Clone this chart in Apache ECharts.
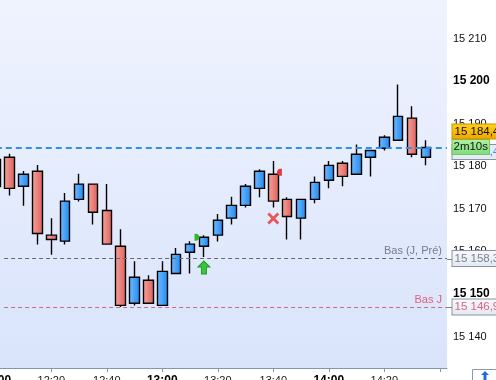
<!DOCTYPE html>
<html><head><meta charset="utf-8">
<script src="https://cdn.jsdelivr.net/npm/echarts@6/dist/echarts.min.js"></script>
<style>html,body{margin:0;padding:0;background:#fff;overflow:hidden}#c{width:496px;height:380px}</style>
</head><body><div id="c"></div>
<script>
// ---- data ----
const times  = ['12:00','12:05','12:10','12:15','12:20','12:25','12:30','12:35','12:40','12:45','12:50','12:55',
                '13:00','13:05','13:10','13:15','13:20','13:25','13:30','13:35','13:40','13:45','13:50','13:55',
                '14:00','14:05','14:10','14:15','14:20','14:25','14:30','14:35'];
const opens  = [15175.2,15182.1,15175.3,15178.8,15163.8,15162.4,15172.2,15175.8,15169.6,15161.2,15147.8,15153.2,
                15147.3,15154.8,15159.8,15161.2,15163.8,15167.8,15170.8,15174.8,15178.1,15172.2,15167.8,15172.2,
                15176.7,15180.7,15178.1,15182.1,15184.2,15186.1,15191.3,15182.1];
const closes = [15181.6,15174.8,15178.1,15164.2,15162.8,15171.8,15175.8,15169.2,15161.7,15147.3,15153.9,15147.8,
                15155.3,15159.3,15161.7,15163.3,15167.3,15170.8,15175.3,15178.8,15171.8,15168.2,15172.2,15176.2,
                15180.2,15177.6,15182.8,15183.7,15186.8,15191.7,15182.8,15184.4];
const lows   = [15174.0,15173.1,15170.7,15161.6,15159.2,15161.6,15171.7,15166.3,15161.7,15146.9,15147.3,15147.8,
                15147.3,15154.8,15154.8,15158.7,15162.3,15166.3,15170.3,15172.7,15170.3,15162.8,15162.8,15171.3,
                15174.8,15175.3,15178.1,15177.6,15183.7,15186.1,15182.1,15180.2];
const highs  = [15182.6,15182.9,15178.9,15180.3,15167.8,15173.7,15178.2,15175.8,15175.8,15165.2,15157.7,15154.4,
                15157.7,15160.8,15162.4,15163.8,15168.8,15172.8,15175.8,15179.3,15181.2,15172.7,15172.2,15177.6,
                15181.2,15181.2,15185.1,15183.7,15187.3,15199.2,15194.1,15186.1];
const yTicks = [15140,15150,15160,15170,15180,15190,15200,15210];
const xTickTimes = ['12:00','12:20','12:40','13:00','13:20','13:40','14:00','14:20','14:40'];
const lastPrice = 15184.4;
const countdown = '2m10s';
const prevDayLow = 15158.3, prevDayLowLabel = 'Bas (J, Pré)';
const dayLow = 15146.9, dayLowLabel = 'Bas J';
const upArrows   = [['13:15', 15156.2]];
const greenFlags = [['13:12.5', 15163.3]];
const redFlags   = [['13:42.2', 15178.6]];
const crosses    = [['13:40', 15167.7]];

// ---- helpers ----
function toMin(t){ const p=t.split(':'); return (parseInt(p[0])-12)*60+parseFloat(p[1]); }
function fmtNum(v, dec){ const s=v.toFixed(dec).replace('.',','); const i=s.indexOf(',')<0?s.length:s.indexOf(',');
  return s.slice(0,i-3)+' '+s.slice(i-3); }
const candleData = times.map((t,i)=>[toMin(t), opens[i], closes[i], lows[i], highs[i]]);
const xMin = 0, xMax = 162.6, yMin = 15132.6, yMax = 15219.04;
const FONT = '"Liberation Sans", Arial, sans-serif';
const blueGrad = {type:'linear',x:0,y:0,x2:1,y2:0,colorStops:[{offset:0,color:'#74bcff'},{offset:1,color:'#1f87ee'}]};
const redGrad  = {type:'linear',x:0,y:0,x2:1,y2:0,colorStops:[{offset:0,color:'#f7a49d'},{offset:1,color:'#dd5f5b'}]};
const AX = '#8797aa';

const chart = echarts.init(document.getElementById('c'), null, {renderer:'canvas'});
function markerSeries(data,symbol,size,color,border){
  return {type:'scatter',data:data.map(d=>[toMin(d[0]),d[1]]),symbol:symbol,symbolSize:size,silent:true,z:5,
    itemStyle:{color:color,borderColor:border,borderWidth:border?1:0,opacity:1}};
}
chart.setOption({
  animation:false,
  grid:{left:-4.2,right:49,top:0,bottom:12,show:true,borderWidth:0,outerBoundsMode:'none',containLabel:false,
    backgroundColor:{type:'linear',x:0,y:0,x2:0,y2:1,colorStops:[{offset:0,color:'#eff3fe'},{offset:1,color:'#d9e4fb'}]}},
  xAxis:{type:'value',min:xMin,max:xMax,splitLine:{show:false},
    axisLine:{show:true,lineStyle:{color:AX,width:1}},
    axisTick:{show:true,length:4,lineStyle:{color:AX},customValues:xTickTimes.map(toMin)},
    axisLabel:{margin:7,fontFamily:FONT,fontSize:11,color:'#1a1a1a',customValues:xTickTimes.map(toMin),
      formatter:v=>{ if(v>=160) return ''; const h=12+Math.floor(v/60), m=Math.round(v%60);
        const s=h+':'+(m<10?'0':'')+m; return m===0?'{b|'+s+'}':s; },
      rich:{b:{fontWeight:'bold',fontSize:12,fontFamily:FONT,color:'#000'}}}},
  yAxis:{type:'value',position:'right',min:yMin,max:yMax,scale:true,splitLine:{show:false},
    axisLine:{show:true,lineStyle:{color:AX,width:1}},
    axisTick:{show:true,length:4,lineStyle:{color:AX},customValues:yTicks},
    axisLabel:{margin:6,fontFamily:FONT,fontSize:11,color:'#111',customValues:yTicks,
      formatter:v=>{ const s=fmtNum(v,0); return v%50===0?'{b|'+s+'}':s; },
      rich:{b:{fontWeight:'bold',fontSize:12,fontFamily:FONT,color:'#000'}}}},
  series:[
    {type:'candlestick',data:candleData,barWidth:10,clip:true,
      itemStyle:{color:blueGrad,color0:redGrad,borderColor:'#000',borderColor0:'#000',borderWidth:1.4},
      markLine:{silent:true,symbol:['none','none'],animation:false,
        data:[
          {yAxis:lastPrice,lineStyle:{color:'#2f8ff0',width:2,type:[6,4]},label:{show:false}},
          [{coord:[3,prevDayLow],lineStyle:{color:'#666a70',width:1,type:[4,3]},
            label:{show:true,position:'insideEndTop',distance:[5,2],formatter:prevDayLowLabel,color:'#767d88',fontFamily:FONT,fontSize:11}},
           {coord:[xMax,prevDayLow]}],
          [{coord:[3,dayLow],lineStyle:{color:'#d0687a',width:1,type:[4,3]},
            label:{show:true,position:'insideEndTop',distance:[5,2],formatter:dayLowLabel,color:'#e0607c',fontFamily:FONT,fontSize:11}},
           {coord:[xMax,dayLow]}]
        ]}},
    markerSeries(upArrows,'path://M6,0 L12,6 L8.5,6 L8.5,13 L3.5,13 L3.5,6 L0,6 Z',[12,13],'#3cc43c','#229a22'),
    markerSeries(greenFlags,'path://M0,0 L2,0 C6,1 6,6 2,7 L0,7 Z',[5,7],'#30b830',null),
    markerSeries(redFlags,'path://M6,0 L6,7 L4,7 C0,6 0,1 4,0 Z',[5,7],'#e03a3a',null),
    markerSeries(crosses,'path://M2,0 L6,4 L10,0 L12,2 L8,6 L12,10 L10,12 L6,8 L2,12 L0,10 L4,6 L0,2 Z',[12,12],'#e8555a',null)
  ]
});

// right-side value boxes, positioned from the axis
const yAt = v => chart.convertToPixel({yAxisIndex:0}, v);
const xEnd = chart.convertToPixel({xAxisIndex:0}, xMax);
const xr = xEnd + 5.5;
const yp = yAt(lastPrice);
const grayBg = {type:'linear',x:0,y:0,x2:0,y2:1,colorStops:[{offset:0,color:'#f7f9fc'},{offset:1,color:'#e3e9f2'}]};
function valueBox(v, color){
  const y = yAt(v);
  return [
    {type:'line',z:49,shape:{x1:xEnd,y1:Math.round(y)+0.5,x2:xr,y2:Math.round(y)+0.5},style:{stroke:'#7b8795',lineWidth:1}},
    {type:'text',z:50,style:{x:xr,y:y,text:fmtNum(v,1),font:'11.5px '+FONT,fill:color,verticalAlign:'middle',
      backgroundColor:grayBg,borderColor:'#8593a4',borderWidth:1,padding:[2,2,1,2]}}
  ];
}
chart.setOption({graphic:[
  ...valueBox(prevDayLow,'#7a8290'),
  ...valueBox(dayLow,'#e0607c'),
  {type:'text',z:50,style:{x:xr,y:yp+4.5,text:fmtNum(lastPrice,1),font:'11.5px '+FONT,fill:'#3a8ef0',verticalAlign:'middle',
    backgroundColor:'#e6ecf6',borderColor:'#8593a4',borderWidth:1,padding:[1,2,1,2]}},
  {type:'text',z:51,style:{x:xr,y:yp-0.5,text:countdown,font:'11.5px '+FONT,fill:'#111',verticalAlign:'middle',
    backgroundColor:{type:'linear',x:0,y:0,x2:0,y2:1,colorStops:[{offset:0,color:'#aef2a6'},{offset:1,color:'#7fdc77'}]},
    borderColor:'#74c46e',borderWidth:1,padding:[1,1,1,1]}},
  {type:'text',z:52,style:{x:xr,y:yp-16,text:fmtNum(lastPrice,1),font:'11.5px '+FONT,fill:'#111',verticalAlign:'middle',
    backgroundColor:{type:'linear',x:0,y:0,x2:0,y2:1,colorStops:[{offset:0,color:'#ffd21a'},{offset:1,color:'#f0a500'}]},
    borderColor:'#c99200',borderWidth:1,padding:[1,2,1,2]}},
  {type:'rect',z:50,shape:{x:472.5,y:369.5,width:30,height:14},style:{fill:'#fff',stroke:'#8a9bb0',lineWidth:1}},
  {type:'polygon',z:51,shape:{points:[[485,371],[489,375],[486.5,375],[486.5,380],[483.5,380],[483.5,375],[481,375]]},style:{fill:'#1f6fd8'}}
]});
</script>
</body></html>
